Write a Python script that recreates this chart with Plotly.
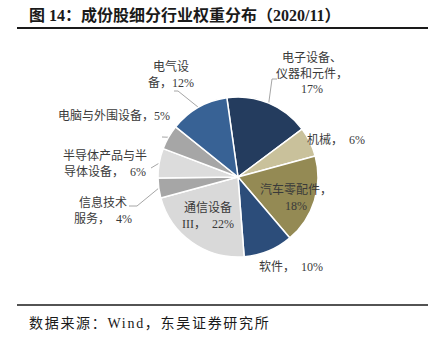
import math
import plotly.graph_objects as go

# Constituent industry weights (2020/11), clockwise from 12 o'clock
sectors = ["电子设备、仪器和元件", "机械", "汽车零配件", "软件", "通信设备III",
           "信息技术服务", "半导体产品与半导体设备", "电脑与外围设备", "电气设备"]
weights = [17, 6, 18, 10, 22, 4, 6, 5, 12]
colors = ["#243c5e", "#c9c19b", "#948a54", "#2c4d7a", "#d9d9d9",
          "#a6a6a6", "#dcdcdc", "#a6a6a6", "#386295"]

# Label text lines (a "{v}" placeholder gets the weight)
label_lines = [
    ["电子设备、", "仪器和元件，", "{v}%"],
    ["机械，  {v}%"],
    ["汽车零配件，", "{v}%"],
    ["软件，  {v}%"],
    ["通信设备", "III，  {v}%"],
    ["信息技术", "服务，  {v}%"],
    ["半导体产品与半", "导体设备，  {v}%"],
    ["电脑与外围设备，{v}%"],
    ["电气设", "备，{v}%"],
]

W, H = 438, 350
CX, CY, R = 238, 177, 80       # pie centre / radius in pixels
ROT = -8                       # start angle, degrees clockwise from 12 o'clock

# label centre positions (pixels) and leader elbows (None = no leader)
label_pos = [(312, 73), (336, 139), (296, 197), (291, 267), (208, 216),
             (103, 210), (105, 164), (114, 116), (171, 74)]
leader_elbows = [
    [(272, 79), (277, 79)],
    None,
    None,
    None,
    None,
    [(137, 206), (129, 206)],
    [(151, 168)],
    [(162, 137)],
    [(178, 91), (174, 91)],
]

FONT = "Liberation Serif, Noto Sans CJK SC"

fig = go.Figure()

fig.add_trace(go.Pie(
    labels=sectors, values=weights, sort=False, direction="clockwise",
    rotation=ROT, textinfo="none", hoverinfo="label+percent",
    marker=dict(colors=colors, line=dict(color="white", width=1.5)),
    domain=dict(x=[(CX - R) / W, (CX + R) / W],
                y=[(H - CY - R) / H, (H - CY + R) / H]),
    showlegend=False,
))

total = sum(weights)
cum = 0
for i, v in enumerate(weights):
    mid = ROT + (cum + v / 2) / total * 360
    cum += v
    ex = CX + R * math.sin(math.radians(mid))
    ey = CY - R * math.cos(math.radians(mid))
    if leader_elbows[i]:
        pts = [(ex, ey)] + leader_elbows[i]
        fig.add_trace(go.Scatter(
            x=[p[0] for p in pts], y=[p[1] for p in pts], mode="lines",
            line=dict(color="#a6a6a6", width=1), hoverinfo="skip",
            showlegend=False, xaxis="x", yaxis="y"))
    text = "<br>".join(s.format(v=v) for s in label_lines[i])
    lx, ly = label_pos[i]
    fig.add_annotation(x=lx, y=ly, xref="x", yref="y", text=text,
                       showarrow=False, align="center",
                       font=dict(family=FONT, size=12, color="#3a3a3a"))

# title and source
fig.add_annotation(x=27, y=15, xref="x", yref="y", xanchor="left",
                   text="<b>图 14：成份股细分行业权重分布（2020/11）</b>",
                   showarrow=False,
                   font=dict(family=FONT, size=16, color="#1a1a1a"))
fig.add_annotation(x=27, y=323, xref="x", yref="y", xanchor="left",
                   text="<span style=\"letter-spacing:1.7px\">数据来源：Wind，东吴证券研究所</span>",
                   showarrow=False,
                   font=dict(family=FONT, size=14, color="#1a1a1a"))

fig.update_layout(
    width=W, height=H, margin=dict(l=0, r=0, t=0, b=0),
    paper_bgcolor="white", plot_bgcolor="rgba(0,0,0,0)",
    xaxis=dict(range=[0, W], visible=False, fixedrange=True),
    yaxis=dict(range=[H, 0], visible=False, fixedrange=True),
    shapes=[
        dict(type="line", xref="x", yref="y", x0=17, x1=428, y0=28, y1=28,
             line=dict(color="#1a1a1a", width=2)),
        dict(type="line", xref="x", yref="y", x0=17, x1=428, y0=305, y1=305,
             line=dict(color="#1a1a1a", width=1.5)),
    ],
)

fig.write_html("out.html")
